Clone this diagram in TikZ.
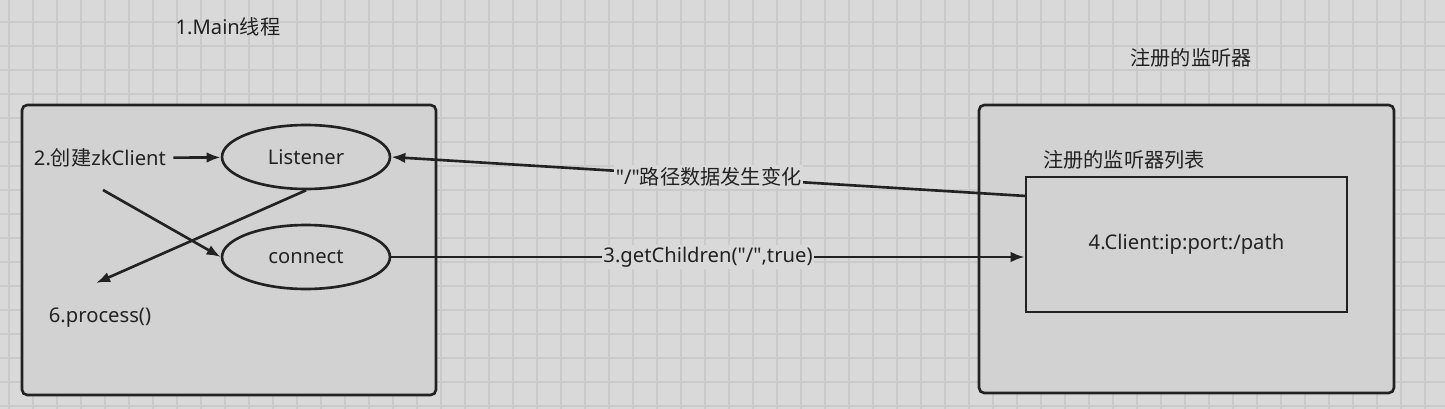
\documentclass[tikz,border=0pt]{standalone}
\usepackage{fontspec}
\setmainfont{Noto Sans}[Ligatures=TeXOff]
\newfontfamily\cjk{Noto Sans CJK SC}
\usetikzlibrary{shapes.geometric,arrows.meta}
\definecolor{bggray}{HTML}{D9D9D9}
\definecolor{gridgray}{HTML}{CACACA}
\definecolor{boxgray}{HTML}{D2D2D2}
\definecolor{ink}{HTML}{222222}
\begin{document}
\begin{tikzpicture}[x=0.02cm,y=-0.02cm,font=\fontsize{11.5}{13}\selectfont,text=ink,
  box/.style={draw=ink,line width=1.5pt,rounded corners=3pt,fill=boxgray},
  oval/.style={draw=ink,ellipse,line width=1.5pt,fill=boxgray,minimum width=3.36cm,minimum height=1.28cm,inner sep=0pt},
  arr/.style={-{Latex[length=8pt,width=6pt]},draw=ink,line width=1.5pt},
  lbl/.style={fill=bggray,inner sep=1pt}]
\useasboundingbox (0,0) rectangle (1445,409);
\fill[bggray] (0,0) rectangle (1445,409);
\foreach \x in {9,33,...,1445} \draw[gridgray,line width=0.6pt] (\x,0) -- (\x,409);
\foreach \y in {22,46,...,409} \draw[gridgray,line width=0.6pt] (0,\y) -- (1445,\y);
% the two boxes
\draw[box] (22,105) rectangle (436,395);
\draw[box] (979,105) rectangle (1394,393);
\node (main) at (228,27) {1.Main{\cjk 线程}};
\node (reg) at (1191,58) {\cjk 注册的监听器};
\node (regl) at (1124,160) {\cjk 注册的监听器列表};
\node[draw=ink,line width=1.5pt,minimum width=6.42cm,minimum height=2.7cm,inner sep=0pt] (list) at (1186.5,244.5) {4.Client:ip:port:/path};
% main thread
\node[oval] (L) at (306,157) {Listener};
\node[oval] (C) at (306,257) {connect};
\node[inner sep=4pt] (zk) at (100,158) {2.{\cjk 创建}zkClient};
\node (proc) at (100,318) {6.process()};
\coordinate (zkout) at (103,190);
\coordinate (procin) at (96,283);
\coordinate (chg) at (1026,196);
\draw[arr] (zk) -- (L);
\draw[arr] (zkout) -- (C.west);
\draw[arr] (L.south) -- (procin);
\draw[arr] (chg) -- node[lbl,midway]{"/"{\cjk 路径数据发生变化}} (L.east);
\draw[arr] (C.east) -- node[lbl,midway]{3.getChildren("/",true)} (C.east -| list.west);
\end{tikzpicture}
\end{document}
